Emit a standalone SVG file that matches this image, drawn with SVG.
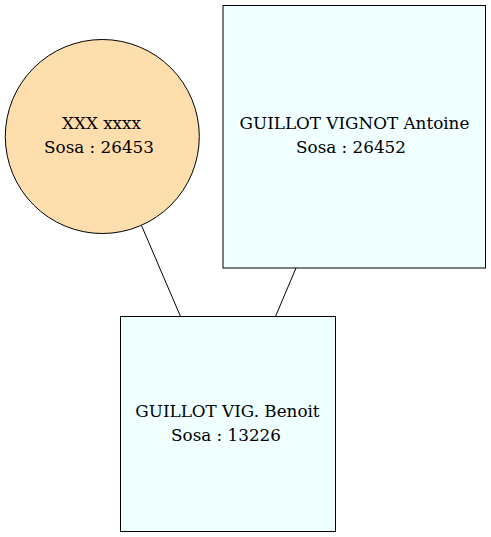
<svg xmlns="http://www.w3.org/2000/svg" width="491" height="537" viewBox="0 0 491 537">
<style>
.box{fill:#f0ffff;stroke:#000;stroke-width:1}
.circ{fill:#ffdead;stroke:#000;stroke-width:1}
.edge{stroke:#000;stroke-width:1;fill:none}
.lbl{font-family:'DejaVu Serif','Liberation Serif',serif;font-size:16.8px;fill:#000;text-anchor:middle}
</style>
<rect width="491" height="537" fill="#fff"/>
<g id="connectors">
<line class="edge" x1="141.5" y1="225.5" x2="180.5" y2="316.5"/>
<line class="edge" x1="296" y1="268" x2="275.5" y2="316.5"/>
</g>
<g id="n26453">
<circle class="circ" cx="102.3" cy="136.5" r="97"/>
<text class="lbl" x="101.5" y="129">XXX xxxx</text>
<text class="lbl" x="99" y="153">Sosa : 26453</text>
</g>
<g id="n26452">
<rect class="box" x="223" y="5.5" width="262.5" height="262.5"/>
<text class="lbl" x="354.5" y="129">GUILLOT VIGNOT Antoine</text>
<text class="lbl" x="351" y="153">Sosa : 26452</text>
</g>
<g id="n13226">
<rect class="box" x="120.5" y="316.5" width="215" height="215"/>
<text class="lbl" x="227.5" y="417">GUILLOT VIG. Benoit</text>
<text class="lbl" x="226" y="440.5">Sosa : 13226</text>
</g>
</svg>
